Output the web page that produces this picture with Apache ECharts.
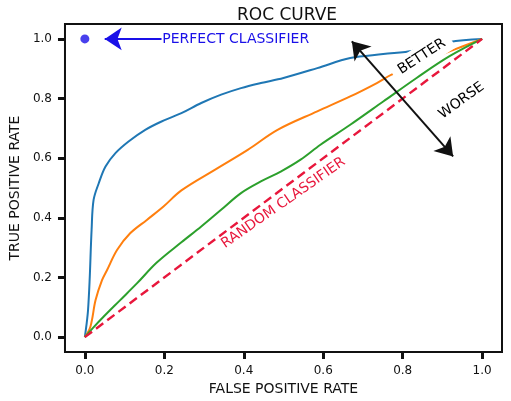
<!DOCTYPE html>
<html>
<head>
<meta charset="utf-8">
<script src="https://cdn.jsdelivr.net/npm/echarts@6/dist/echarts.min.js"></script>
<style>
html,body{margin:0;padding:0;background:#fff;}
#chart{width:511px;height:401px;}
</style>
</head>
<body>
<div id="chart"></div>
<script>
// ---- data ----
const tickValues = [0, 0.2, 0.4, 0.6, 0.8, 1.0];
const blueCurve = [[0,0],[0.004,0.04],[0.008,0.09],[0.012,0.19],[0.017,0.36],[0.022,0.46],[0.035,0.516],[0.052,0.572],[0.077,0.617],[0.11,0.656],[0.152,0.695],[0.193,0.723],[0.243,0.751],[0.293,0.785],[0.343,0.813],[0.393,0.835],[0.443,0.852],[0.5,0.869],[0.585,0.902],[0.668,0.936],[0.751,0.949],[0.827,0.96],[0.918,0.99],[1.0,1.0]];
const orangeCurve = [[0,0],[0.014,0.035],[0.027,0.124],[0.043,0.19],[0.056,0.225],[0.081,0.292],[0.114,0.348],[0.156,0.393],[0.198,0.438],[0.243,0.492],[0.327,0.561],[0.41,0.628],[0.485,0.695],[0.585,0.757],[0.668,0.807],[0.735,0.852],[0.772,0.88],[0.852,0.925],[0.918,0.958],[1.0,1.0]];
const greenCurve = [[0,0],[0.02,0.03],[0.047,0.068],[0.089,0.124],[0.131,0.18],[0.181,0.25],[0.243,0.318],[0.293,0.371],[0.343,0.427],[0.393,0.483],[0.443,0.522],[0.493,0.555],[0.543,0.595],[0.593,0.645],[0.668,0.712],[0.751,0.79],[0.835,0.869],[0.918,0.942],[1.0,1.0]];
const randomLine = [[0,0],[1,1]];
const perfectPoint = [[0,1]];
const labelTexts = ['PERFECT CLASSIFIER','RANDOM CLASSIFIER','BETTER','WORSE'];
const labelPoints = [[0.2,1.0],[0.50,0.45],[0.848,0.941],[0.948,0.793]];
const perfectArrow = [[0.193,1.0],[0.05,1.0]];
const betterWorseArrow = [[0.672,0.992],[0.927,0.606]];

const FONT = 'DejaVu Sans';
const chart = echarts.init(document.getElementById('chart'), null, {renderer:'canvas'});

const annoStyles = [
  {color:'#1a10e8', rotate:0, position:'right', bg:null},
  {color:'#e8173c', rotate:35, position:'inside', bg:null},
  {color:'#000', rotate:33, position:'inside', bg:'#fff'},
  {color:'#000', rotate:36, position:'inside', bg:null}
];

const option = {
  animation:false,
  backgroundColor:'#fff',
  title:{text:'ROC CURVE', left:282, textAlign:'center', top:2,
    textStyle:{fontFamily:FONT, fontSize:17, fontWeight:'normal', color:'#111'}},
  grid:{left:63, right:9, top:24, bottom:49, show:true, borderColor:'#111', borderWidth:2, backgroundColor:'#fff'},
  xAxis:{type:'value', min:-0.05, max:1.05,
    name:'FALSE POSITIVE RATE', nameLocation:'middle', nameGap:29,
    nameTextStyle:{fontFamily:FONT, fontSize:14, color:'#111'},
    axisLine:{show:false, onZero:false},
    axisTick:{show:true, length:7, customValues:tickValues, lineStyle:{color:'#111', width:3}},
    axisLabel:{customValues:tickValues, margin:13, fontFamily:FONT, fontSize:12, color:'#111', formatter:v=>v.toFixed(1)},
    splitLine:{show:false}},
  yAxis:{type:'value', min:-0.05, max:1.05,
    name:'TRUE POSITIVE RATE', nameLocation:'middle', nameGap:40,
    nameTextStyle:{fontFamily:FONT, fontSize:14, color:'#111'},
    axisLine:{show:false, onZero:false},
    axisTick:{show:true, length:7, customValues:tickValues, lineStyle:{color:'#111', width:3}},
    axisLabel:{customValues:tickValues, margin:13, fontFamily:FONT, fontSize:12, color:'#111', formatter:v=>v.toFixed(1)},
    splitLine:{show:false}},
  series:[
    {type:'line', data:blueCurve, smooth:0.35, showSymbol:false, lineStyle:{color:'#1f77b4', width:2}, z:2},
    {type:'line', data:orangeCurve, smooth:0.35, showSymbol:false, lineStyle:{color:'#ff7f0e', width:2}, z:2},
    {type:'line', data:greenCurve, smooth:0.35, showSymbol:false, lineStyle:{color:'#2ca02c', width:2}, z:2},
    {type:'line', data:randomLine, showSymbol:false, lineStyle:{color:'#e8173c', width:2.4, type:[9,5]}, z:3},
    {type:'scatter', data:perfectPoint, symbolSize:9, itemStyle:{color:'#1a10e8'}, z:4,
      markLine:{silent:true, symbol:['none','arrow'], symbolSize:17,
        lineStyle:{color:'#1a10e8', width:2, type:'solid'}, label:{show:false},
        data:[[{coord:perfectArrow[0]},{coord:perfectArrow[1]}]]}},
    {type:'scatter', symbolSize:0, z:6,
      data:labelPoints.map((p,i)=>({value:p, label:{show:true, formatter:labelTexts[i],
        position:annoStyles[i].position, distance:annoStyles[i].position==='right'?-2:0,
        rotate:annoStyles[i].rotate, color:annoStyles[i].color,
        fontFamily:FONT, fontSize:14, opacity:1,
        backgroundColor:annoStyles[i].bg||'transparent', padding:annoStyles[i].bg?[4,7]:0}})),
      emphasis:{disabled:true},
      markLine:{silent:true, symbol:['arrow','arrow'], symbolSize:17,
        lineStyle:{color:'#111', width:2, type:'solid'}, label:{show:false},
        data:[[{coord:betterWorseArrow[0]},{coord:betterWorseArrow[1]}]]}}
  ]
};
chart.setOption(option);
</script>
</body>
</html>
